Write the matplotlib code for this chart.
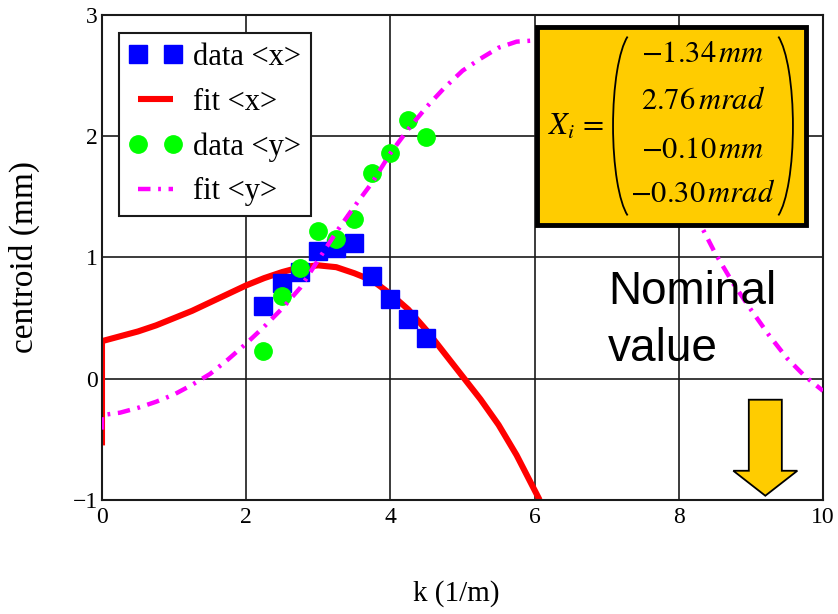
import matplotlib
matplotlib.use("Agg")
import matplotlib.pyplot as plt
from matplotlib.patches import Rectangle, Arc, FancyArrow

plt.rcParams['font.family'] = ['Liberation Serif', 'DejaVu Serif']
plt.rcParams['mathtext.fontset'] = 'stix'
plt.rcParams['lines.scale_dashes'] = False

# ---- data ----
k_data = [2.24, 2.49, 2.74, 2.99, 3.24, 3.49, 3.74, 3.99, 4.24, 4.49]
data_x = [0.60, 0.79, 0.88, 1.05, 1.08, 1.12, 0.85, 0.66, 0.49, 0.34]
data_y = [0.23, 0.68, 0.91, 1.22, 1.15, 1.32, 1.70, 1.86, 2.13, 1.99]

k_fit_x = [0, 0, 0.25, 0.5, 0.75, 1.0, 1.25, 1.5, 1.75, 2.0, 2.25, 2.5, 2.75,
           3.0, 3.25, 3.5, 3.75, 4.0, 4.25, 4.5, 4.75, 5.0, 5.25, 5.5, 5.75, 6.07]
fit_x = [-0.55, 0.31, 0.35, 0.39, 0.44, 0.50, 0.56, 0.63, 0.70, 0.77, 0.83, 0.88, 0.92,
         0.935, 0.92, 0.87, 0.81, 0.70, 0.57, 0.40, 0.21, 0.02, -0.17, -0.38, -0.63, -1.0]

k_fit_y = [0, 0, 0.25, 0.5, 0.75, 1.0, 1.25, 1.5, 1.75, 2.0, 2.25, 2.5, 2.75, 3.0,
           3.25, 3.5, 3.75, 4.0, 4.25, 4.5, 4.75, 5.0, 5.25, 5.5, 5.75, 6.0, 6.5,
           7.0, 7.5, 8.0, 8.25, 8.5, 8.75, 9.0, 9.25, 9.5, 9.75, 10.0]
fit_y = [-0.42, -0.30, -0.28, -0.24, -0.19, -0.13, -0.05, 0.04, 0.16, 0.29, 0.43,
         0.58, 0.75, 0.98, 1.21, 1.42, 1.62, 1.86, 2.06, 2.24, 2.40, 2.54, 2.64,
         2.73, 2.78, 2.79, 2.74, 2.55, 2.20, 1.65, 1.33, 1.04, 0.79, 0.57, 0.36,
         0.17, 0.02, -0.10]

x_ticks = [0, 2, 4, 6, 8, 10]
y_ticks = [-1, 0, 1, 2, 3]
legend_labels = ['data <x>', 'fit <x>', 'data <y>', 'fit <y>']
matrix_rows = [r'$-1.34\,mm$', r'$2.76\,mrad$', r'$-0.10\,mm$', r'$-0.30\,mrad$']

# ---- figure ----
fig = plt.figure(figsize=(8.38, 6.14), dpi=100)
ax = fig.add_axes([0.1217, 0.1857, 0.8604, 0.7899])

h1, = ax.plot(k_data, data_x, linestyle='none', marker='s', markersize=13,
              color='#0000FF', zorder=3, label=legend_labels[0])
h2, = ax.plot(k_fit_x, fit_x, color='#FF0000', linewidth=4.4, zorder=2,
              solid_capstyle='butt', solid_joinstyle='round', label=legend_labels[1])
h3, = ax.plot(k_data, data_y, linestyle='none', marker='o', markersize=12.5,
              color='#00FF00', zorder=4, label=legend_labels[2])
h4, = ax.plot(k_fit_y, fit_y, color='#FF00FF', linewidth=3.2, zorder=5,
              linestyle=(0, (9, 5.5, 2, 5.5)), dash_capstyle='butt',
              label=legend_labels[3])

ax.set_xlim(0, 10)
ax.set_ylim(-1, 3)
ax.set_xticks(x_ticks)
ax.set_yticks(y_ticks)
ax.grid(True, color='#1a1a1a', linewidth=1.2, zorder=1)
ax.set_axisbelow(True)
ax.tick_params(axis='both', length=0, labelsize=17)
ax.tick_params(axis='x', pad=5)
ax.tick_params(axis='y', pad=3)
for s in ax.spines.values():
    s.set_linewidth(1.5)
    s.set_color('#1a1a1a')

ax.set_xlabel('k (1/m)', fontsize=21)
ax.xaxis.set_label_coords(0.491, -0.165)
ax.set_ylabel('centroid (mm)', fontsize=24)
ax.yaxis.set_label_coords(-0.086, 0.5)

leg = ax.legend(handles=[h1, h2, h3, h4], loc='upper left',
                bbox_to_anchor=(0.0236, 0.963), borderaxespad=0,
                fontsize=22, numpoints=2, handlelength=1.75, handletextpad=0.33,
                borderpad=0.33, labelspacing=0.51, fancybox=False,
                framealpha=1, edgecolor='#1a1a1a')
leg.get_frame().set_linewidth(1.5)
leg.set_zorder(6)

# yellow formula box
box = Rectangle((0.6033, 0.567), 0.9764 - 0.6033, 0.9753 - 0.567,
                transform=ax.transAxes, facecolor='#FFCC00', edgecolor='black',
                linewidth=3.5, zorder=7)
ax.add_patch(box)
ax.text(0.6186, 0.769, r'$X_i\, =$', transform=ax.transAxes, fontsize=22,
        ha='left', va='center', zorder=8)
for row, yy in zip(matrix_rows, [0.9175, 0.8206, 0.7216, 0.6289]):
    ax.text(0.8336, yy, row, transform=ax.transAxes, fontsize=22,
            ha='center', va='center', zorder=8)
ax.add_patch(Arc((0.7393, 0.7711), 0.061, 0.3918, theta1=93.2, theta2=266.8,
                 transform=ax.transAxes, color='black', linewidth=1.3, zorder=8))
ax.add_patch(Arc((0.9278, 0.7711), 0.061, 0.3918, theta1=-86.8, theta2=86.8,
                 transform=ax.transAxes, color='black', linewidth=1.3, zorder=8))

# nominal value note + arrow
ax.text(7.02, 0.62, 'Nominal', fontsize=33, family='Liberation Sans',
        ha='left', va='baseline', zorder=8)
ax.text(7.02, 0.148, 'value', fontsize=33, family='Liberation Sans',
        ha='left', va='baseline', zorder=8)
arrow = FancyArrow(9.2, -0.173, 0, -0.792, width=0.458, head_width=0.888,
                   head_length=0.206, length_includes_head=True,
                   facecolor='#FFCC00', edgecolor='black', linewidth=1.3, zorder=8)
ax.add_patch(arrow)

fig.savefig('out.png', dpi=100)
